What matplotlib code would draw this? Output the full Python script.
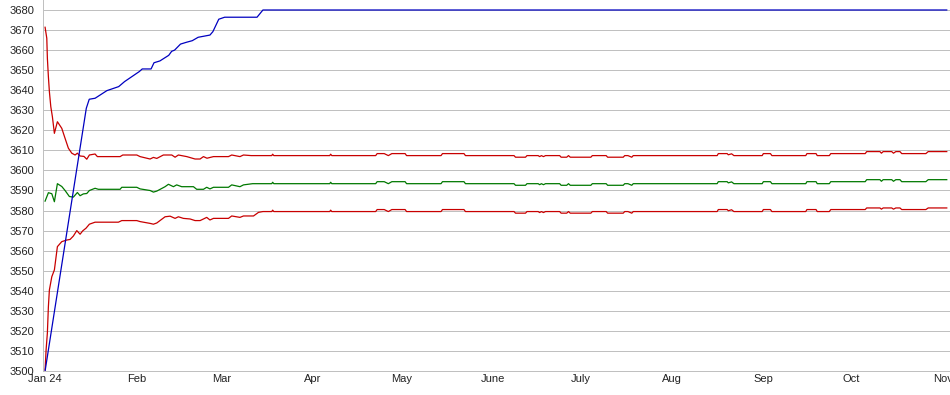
import matplotlib
matplotlib.use("Agg")
import matplotlib.pyplot as plt
import pandas as pd
import numpy as np

plt.rcParams['font.family'] = ['Liberation Sans', 'DejaVu Sans']

BASE = pd.Timestamp("2024-01-01")

# ---- data (day offsets from 2024-01-01, values) ----
blue_days = [0, 14, 15, 17, 21, 25, 27, 32, 33, 36, 37, 39, 42, 43, 44, 46, 48,
             50, 52, 56, 57, 59, 61, 72, 74, 306.3]
blue_vals = [3500, 3631, 3635.5, 3636, 3639.8, 3641.8, 3644.3, 3649.3, 3650.6, 3650.6,
             3653.7, 3654.6, 3657.4, 3659.4, 3660, 3663, 3663.9, 3664.7, 3666.4,
             3667.5, 3669.2, 3675.4, 3676.4, 3676.4, 3680, 3680]

upper_early_days = [0.0, 0.58, 0.78, 1.12, 1.46, 1.94, 2.48, 3.16, 4.18, 5.67, 6.79, 7.91,
                    9.07, 10.19, 10.97, 11.89, 13.2, 14.16, 15.05, 16.98, 17.76, 25.48,
                    26.39, 31.15, 32.27, 35.67, 36.8, 37.94, 40.18, 43.04, 44.16, 45.28,
                    48.13, 50.95, 52.65, 53.8, 55.0, 57.2, 62.3, 63.4, 66.2, 67.4, 70.0]
upper_early = [3671.4, 3665.9, 3655.9, 3646.8, 3639.3, 3631.8, 3626.8, 3618.5, 3624.3,
               3621.0, 3616.0, 3611.1, 3608.6, 3607.7, 3608.6, 3607.2, 3607.0, 3605.6,
               3607.7, 3608.2, 3606.9, 3606.9, 3607.7, 3607.7, 3606.9, 3605.7, 3606.5,
               3606.0, 3607.7, 3607.7, 3606.6, 3607.7, 3606.9, 3605.7, 3605.7, 3606.9,
               3606.1, 3606.9, 3606.9, 3607.7, 3606.9, 3607.7, 3607.4]

mid_early_days = [0.0, 1.13, 2.28, 3.16, 4.18, 5.67, 6.79, 8.25, 9.61, 10.97, 11.89, 13.0,
                  14.16, 15.05, 16.98, 18.1, 25.48, 26.05, 31.15, 32.27, 35.67, 36.8,
                  37.94, 40.76, 41.9, 43.6, 44.7, 46.4, 50.4, 51.5, 53.8, 54.9, 56.0,
                  57.2, 62.3, 63.4, 66.2, 67.4, 70.5]
mid_early = [3584.7, 3588.9, 3588.4, 3584.4, 3593.4, 3592.0, 3590.0, 3587.0, 3586.7,
             3589.0, 3587.4, 3588.3, 3588.5, 3590.0, 3591.1, 3590.6, 3590.6, 3591.6,
             3591.6, 3590.8, 3590.0, 3589.2, 3589.7, 3591.9, 3593.1, 3591.9, 3592.8,
             3591.9, 3591.9, 3590.6, 3590.6, 3591.6, 3590.8, 3591.6, 3591.6, 3592.8,
             3591.9, 3592.8, 3593.4]

lower_early_days = [0.0, 0.34, 0.78, 1.12, 1.46, 2.28, 3.16, 3.74, 4.18, 5.67, 7.36, 8.49,
                    9.61, 10.77, 11.89, 12.8, 13.9, 15.05, 16.98, 24.9, 26.05, 31.15,
                    32.27, 35.67, 36.8, 37.94, 40.76, 42.47, 44.16, 45.28, 46.98, 49.25,
                    50.95, 52.65, 53.8, 54.9, 56.0, 57.2, 62.3, 63.4, 66.2, 67.4, 70.8, 72.5]
lower_early = [3500.5, 3510.5, 3519.0, 3532.0, 3540.4, 3547.0, 3550.4, 3557.0, 3562.0,
               3564.5, 3565.3, 3565.6, 3567.3, 3570.0, 3568.2, 3569.9, 3571.2, 3573.2,
               3574.2, 3574.2, 3575.0, 3575.0, 3574.5, 3573.6, 3573.2, 3573.8, 3576.9,
               3577.2, 3576.1, 3576.9, 3576.1, 3575.8, 3575.0, 3575.0, 3575.8, 3576.6,
               3575.3, 3576.1, 3576.1, 3577.3, 3576.6, 3577.3, 3577.3, 3579.1]

late_days = [74.0, 77.0, 77.3, 77.7, 96.7, 97.0, 97.4, 112.3, 112.8, 115.2, 116.6, 117.8,
             122.3, 122.8, 134.5, 135.0, 142.3, 142.8, 159.3, 159.8, 163.2, 163.7, 167.5,
             168.0, 168.6, 169.3, 170.0, 174.8, 175.3, 177.2, 177.8, 178.4, 185.4, 185.9,
             190.6, 191.1, 196.4, 196.9, 198.0, 199.3, 199.8, 228.3, 228.7, 231.7, 232.1,
             233.2, 234.0, 243.6, 244.0, 246.4, 246.9, 258.4, 258.8, 261.9, 262.3, 266.4,
             266.9, 278.6, 279.1, 283.6, 284.1, 284.7, 287.6, 288.2, 289.0, 290.4, 291.0,
             299.2, 300.0, 306.3]
upper_late = [3607.4, 3607.4, 3608.1, 3607.4, 3607.4, 3608.1, 3607.4, 3607.4, 3608.4, 3608.4,
              3607.4, 3608.4, 3608.4, 3607.4, 3607.4, 3608.4, 3608.4, 3607.4, 3607.4, 3606.6,
              3606.6, 3607.4, 3607.4, 3606.9, 3607.4, 3606.9, 3607.4, 3607.4, 3606.6, 3606.6,
              3607.4, 3606.6, 3606.6, 3607.4, 3607.4, 3606.6, 3606.6, 3607.4, 3607.4, 3606.6,
              3607.4, 3607.4, 3608.4, 3608.4, 3607.8, 3608.3, 3607.4, 3607.4, 3608.4, 3608.4,
              3607.4, 3607.4, 3608.4, 3608.4, 3607.4, 3607.4, 3608.4, 3608.4, 3609.4, 3609.4,
              3608.6, 3609.4, 3609.4, 3608.6, 3609.4, 3609.4, 3608.4, 3608.4, 3609.4, 3609.4]
mid_late = [3593.4, 3593.4, 3594.1, 3593.4, 3593.4, 3594.1, 3593.4, 3593.4, 3594.4, 3594.4,
            3593.4, 3594.4, 3594.4, 3593.4, 3593.4, 3594.4, 3594.4, 3593.4, 3593.4, 3592.6,
            3592.6, 3593.4, 3593.4, 3592.9, 3593.4, 3592.9, 3593.4, 3593.4, 3592.6, 3592.6,
            3593.4, 3592.6, 3592.6, 3593.4, 3593.4, 3592.6, 3592.6, 3593.4, 3593.4, 3592.6,
            3593.4, 3593.4, 3594.4, 3594.4, 3593.8, 3594.3, 3593.4, 3593.4, 3594.4, 3594.4,
            3593.4, 3593.4, 3594.4, 3594.4, 3593.4, 3593.4, 3594.4, 3594.4, 3595.4, 3595.4,
            3594.6, 3595.4, 3595.4, 3594.6, 3595.4, 3595.4, 3594.4, 3594.4, 3595.4, 3595.4]
lower_late = [3579.5, 3579.5, 3580.2, 3579.5, 3579.5, 3580.2, 3579.5, 3579.5, 3580.5, 3580.5,
              3579.5, 3580.5, 3580.5, 3579.5, 3579.5, 3580.5, 3580.5, 3579.5, 3579.5, 3578.7,
              3578.7, 3579.5, 3579.5, 3579.0, 3579.5, 3579.0, 3579.5, 3579.5, 3578.7, 3578.7,
              3579.5, 3578.7, 3578.7, 3579.5, 3579.5, 3578.7, 3578.7, 3579.5, 3579.5, 3578.7,
              3579.5, 3579.5, 3580.5, 3580.5, 3579.9, 3580.4, 3579.5, 3579.5, 3580.5, 3580.5,
              3579.5, 3579.5, 3580.5, 3580.5, 3579.5, 3579.5, 3580.5, 3580.5, 3581.3, 3581.3,
              3580.7, 3581.3, 3581.3, 3580.7, 3581.3, 3581.3, 3580.5, 3580.5, 3581.3, 3581.3]

month_ticks = ["2024-01-01", "2024-02-01", "2024-03-01", "2024-04-01", "2024-05-01",
               "2024-06-01", "2024-07-01", "2024-08-01", "2024-09-01", "2024-10-01",
               "2024-11-01"]
month_labels = ["Jan 24", "Feb", "Mar", "Apr", "May", "June", "July", "Aug", "Sep", "Oct", "Nov"]
y_ticks = list(range(3500, 3681, 10))


def to_dates(days):
    return BASE + pd.to_timedelta(np.asarray(days, dtype=float), unit="D")


fig = plt.figure(figsize=(9.5, 3.95), dpi=100)
ax = fig.add_axes([43 / 950, 24 / 395, 907 / 950, 371 / 395])

RED = "#c80000"
GREEN = "#007800"
BLUE = "#0000c0"
lw = 0.9

ax.plot(to_dates(upper_early_days + late_days), upper_early + upper_late, color=RED, lw=lw)
ax.plot(to_dates(mid_early_days + late_days), mid_early + mid_late, color=GREEN, lw=lw)
ax.plot(to_dates(lower_early_days + late_days), lower_early + lower_late, color=RED, lw=lw)
ax.plot(to_dates(blue_days), blue_vals, color=BLUE, lw=lw)

ax.set_ylim(3500, 3680 + 10 * 10 / 20.06)
ax.set_xlim(BASE - pd.Timedelta(hours=17), BASE + pd.Timedelta(days=307.4))

ax.set_yticks(y_ticks)
ax.set_yticklabels([str(v) for v in y_ticks])
ax.set_xticks(pd.to_datetime(month_ticks))
ax.set_xticklabels(month_labels)

ax.grid(axis="y", color="#c0c0c0", lw=0.72, antialiased=False)
ax.set_axisbelow(True)
ax.tick_params(axis="both", length=0, labelsize=8, colors="#222222")
ax.tick_params(axis="y", pad=6)
ax.tick_params(axis="x", pad=2)
for side in ["top", "right"]:
    ax.spines[side].set_visible(False)
for side in ["left", "bottom"]:
    ax.spines[side].set_color("#c0c0c0")
    ax.spines[side].set_linewidth(0.72)
    ax.spines[side].set_antialiased(False)

fig.savefig("out.png", dpi=100)
